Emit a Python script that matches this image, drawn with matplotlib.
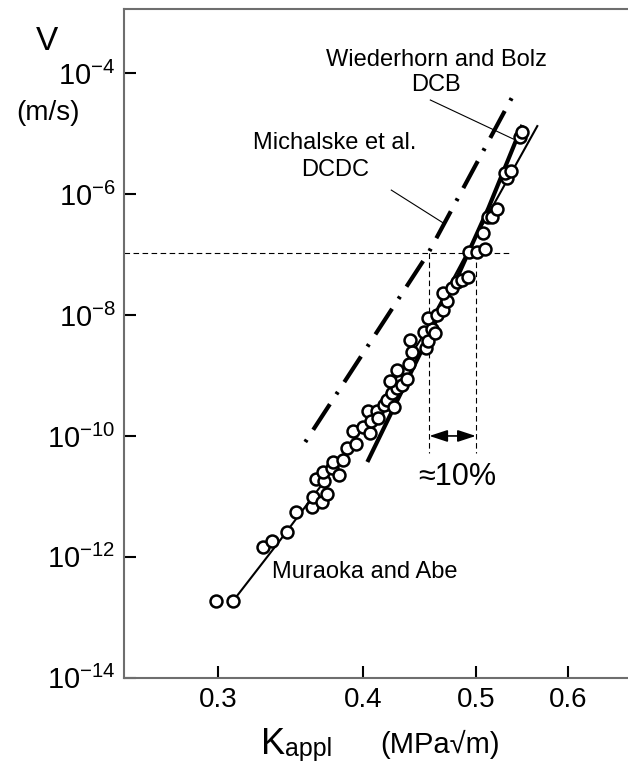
import matplotlib
matplotlib.use('Agg')
import matplotlib.pyplot as plt
from matplotlib.ticker import NullLocator

plt.rcParams['font.family'] = ['Liberation Sans', 'DejaVu Sans']
plt.rcParams['mathtext.fontset'] = 'custom'
plt.rcParams['mathtext.rm'] = 'Liberation Sans'
plt.rcParams['mathtext.it'] = 'Liberation Sans:italic'
plt.rcParams['lines.scale_dashes'] = False

# measured points (Muraoka and Abe)
k_data = [0.2990, 0.3092, 0.3281, 0.3340, 0.3441, 0.3503, 0.3616, 0.3623, 0.3688, 0.3725,
          0.3645, 0.3703, 0.3696, 0.3762, 0.3770, 0.3815, 0.3845, 0.3876, 0.3946, 0.3922,
          0.4001, 0.4041, 0.4057, 0.4065, 0.4113, 0.4122, 0.4171, 0.4196, 0.4254, 0.4237,
          0.4279, 0.4220, 0.4279, 0.4322, 0.4365, 0.4382, 0.4408, 0.4391, 0.4515, 0.4533,
          0.4551, 0.4587, 0.4614, 0.4551, 0.4633, 0.4689, 0.4726, 0.4689, 0.4773, 0.4821,
          0.4869, 0.4927, 0.4937, 0.5016, 0.5096, 0.5076, 0.5127, 0.5167, 0.5219, 0.5323,
          0.5302, 0.5365, 0.5462, 0.5483]
v_data = [1.86e-13, 1.86e-13, 1.46e-12, 1.83e-12, 2.58e-12, 5.52e-12, 6.67e-12, 9.77e-12, 8.07e-12, 1.09e-11,
          1.94e-11, 1.80e-11, 2.53e-11, 2.95e-11, 3.71e-11, 2.26e-11, 4.00e-11, 6.32e-11, 7.36e-11, 1.21e-10,
          1.41e-10, 2.59e-10, 1.12e-10, 1.77e-10, 2.59e-10, 1.98e-10, 3.25e-10, 3.94e-10, 3.01e-10, 5.13e-10,
          6.21e-10, 8.11e-10, 1.23e-9, 6.97e-10, 8.75e-10, 1.55e-9, 2.45e-9, 3.86e-9, 5.25e-9, 2.85e-9,
          3.72e-9, 5.88e-9, 5.05e-9, 8.94e-9, 1.00e-8, 1.21e-8, 1.71e-8, 2.32e-8, 2.81e-8, 3.52e-8,
          3.80e-8, 4.27e-8, 1.10e-7, 1.10e-7, 1.24e-7, 2.28e-7, 4.19e-7, 4.19e-7, 5.69e-7, 1.85e-6,
          2.24e-6, 2.42e-6, 8.83e-6, 1.07e-5]

# fitted curves
mur_k = [0.3086, 0.3394, 0.3823, 0.4155, 0.4479, 0.4927, 0.5648]
mur_v = [1.79e-13, 1.90e-12, 4.00e-11, 3.94e-10, 3.86e-9, 1.19e-7, 1.34e-5]
dcb_k = [0.4033, 0.4821, 0.5127, 0.5483]
dcb_v = [3.71e-11, 4.27e-8, 5.91e-7, 1.40e-5]
dcdc_k = [0.3566, 0.4551, 0.5386]
dcdc_v = [7.94e-11, 1.06e-7, 4.38e-5]

# guide lines
v_ref = 1.08e-7
k_ref = [0.456, 0.500]
k_ref_end = 0.5355
v_ref_low = 5.2e-11
v_arrow = 1.0e-10

lead_dcb_k = [0.4569, 0.5386]
lead_dcb_v = [3.62e-5, 8.18e-6]
lead_dcdc_k = [0.4229, 0.4689]
lead_dcdc_v = [1.17e-6, 3.33e-7]

x_ticks = [0.3, 0.4, 0.5, 0.6]
x_tick_labels = ['0.3', '0.4', '0.5', '0.6']
y_ticks = [1e-14, 1e-12, 1e-10, 1e-8, 1e-6, 1e-4]
y_tick_labels = [r'$\mathdefault{10^{-14}}$', r'$\mathdefault{10^{-12}}$', r'$\mathdefault{10^{-10}}$',
                 r'$\mathdefault{10^{-8}}$', r'$\mathdefault{10^{-6}}$', r'$\mathdefault{10^{-4}}$']

W, H = 628, 764


def px(x, y):
    return x / W, 1 - y / H


fig = plt.figure(figsize=(W / 100, H / 100), dpi=100)
ax = fig.add_axes([124 / W, 1 - 677.7 / H, 1 - 124 / W, (677.7 - 9) / H])
ax.set_xscale('log')
ax.set_yscale('log')
ax.set_xlim(0.249, 0.676)
ax.set_ylim(1e-14, 1.16e-3)

ax.plot(mur_k, mur_v, color='k', lw=1.5, zorder=2)
ax.plot(dcb_k, dcb_v, color='k', lw=3, solid_capstyle='butt', zorder=2)
ax.plot(dcdc_k, dcdc_v, color='k', lw=3, linestyle=(30.5, (22, 8.5, 2, 8.5)),
        dash_capstyle='butt', zorder=2)

ax.plot(k_data, v_data, 'o', ms=8.6, mfc='white', mec='k', mew=1.8, zorder=3)

# dashed guides
ax.plot([0.249, k_ref_end], [v_ref, v_ref], color='k', lw=0.8, linestyle=(0, (4, 2.5)))
for k in k_ref:
    ax.plot([k, k], [v_ref, v_ref_low], color='k', lw=0.8, linestyle=(0, (4, 2.5)))
ax.annotate('', xy=(k_ref[1], v_arrow), xytext=(k_ref[0], v_arrow),
            arrowprops=dict(arrowstyle='<|-|>,head_length=0.55,head_width=0.18',
                            color='k', lw=1.2, mutation_scale=20, shrinkA=0, shrinkB=0))

ax.plot(lead_dcb_k, lead_dcb_v, color='k', lw=0.8)
ax.plot(lead_dcdc_k, lead_dcdc_v, color='k', lw=0.8)

ax.set_xticks(x_ticks)
ax.set_xticklabels(x_tick_labels)
ax.set_yticks(y_ticks)
ax.set_yticklabels(y_tick_labels)
ax.xaxis.set_minor_locator(NullLocator())
ax.yaxis.set_minor_locator(NullLocator())
ax.tick_params(direction='in', length=8.6, width=1.5, color='k')
ax.tick_params(axis='x', labelsize=20, pad=7)
ax.tick_params(axis='y', labelsize=21, pad=6)

for s in ['left', 'bottom', 'top']:
    ax.spines[s].set_color('#6e6e6e')
    ax.spines[s].set_linewidth(1.5)
ax.spines['right'].set_visible(False)

# labels
fig.text(*px(47, 42), 'V', fontsize=24, ha='center', va='center')
fig.text(*px(48, 113), '(m/s)', fontsize=20, ha='center', va='center')
fig.text(*px(261, 754), 'K', fontsize=26, ha='left', va='baseline')
fig.text(*px(285, 756), 'appl', fontsize=18, ha='left', va='baseline')
fig.text(*px(380, 753), '(MPa\u221am)', fontsize=21, ha='left', va='baseline')

fig.text(*px(436, 49), 'Wiederhorn and Bolz\nDCB', fontsize=17, ha='center', va='top',
         multialignment='center')
fig.text(*px(335, 132), 'Michalske et al.\nDCDC', fontsize=17, ha='center', va='top',
         multialignment='center', linespacing=1.3)
fig.text(*px(272, 578), 'Muraoka and Abe', fontsize=17, ha='left', va='baseline')
fig.text(*px(457, 485), '\u224810%', fontsize=22, ha='center', va='baseline')

fig.savefig('out.png', dpi=100)
